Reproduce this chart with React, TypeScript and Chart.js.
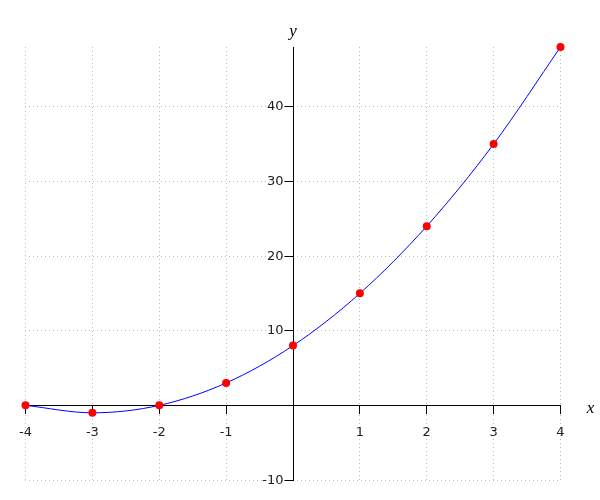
import React, { useEffect, useRef } from "react";
import { Chart, registerables } from "chart.js";

Chart.register(...registerables);

const xValues = [-4, -3, -2, -1, 0, 1, 2, 3, 4];
const yValues = [0, -1, 0, 3, 8, 15, 24, 35, 48];
const xTicks = [-4, -3, -2, -1, 0, 1, 2, 3, 4];
const yTicks = [-10, 0, 10, 20, 30, 40];
const xRange = [-4, 4];
const yRange = [-10, 48];
const xLabel = "x";
const yLabel = "y";

const axisLabels = {
  id: "axisLabels",
  afterDraw(chart: any) {
    const { ctx, scales } = chart;
    const xs = scales.x;
    const ys = scales.y;
    const ax = Math.round(xs.getPixelForValue(0) - 0.5) + 0.5;
    ctx.save();
    ctx.strokeStyle = "#000";
    ctx.lineWidth = 1;
    ctx.fillStyle = "#222";
    ctx.font = "13px 'DejaVu Sans', sans-serif";
    ctx.textAlign = "right";
    ctx.textBaseline = "middle";
    for (const v of yTicks) {
      if (v === 0) continue;
      const py = Math.round(ys.getPixelForValue(v) - 0.5) + 0.5;
      ctx.beginPath();
      ctx.moveTo(ax - 9, py);
      ctx.lineTo(ax, py);
      ctx.stroke();
      ctx.fillText(String(v), ax - 10, py);
    }
    ctx.font = "italic 17px 'Liberation Serif', 'DejaVu Serif', serif";
    ctx.fillStyle = "#000";
    ctx.textAlign = "center";
    ctx.fillText(yLabel, xs.getPixelForValue(0), ys.top - 15);
    ctx.fillText(xLabel, xs.right + 30, ys.getPixelForValue(0) + 3);
    ctx.restore();
  },
};

export default function App() {
  const ref = useRef<HTMLCanvasElement>(null);
  useEffect(() => {
    document.body.style.margin = "0";
    const chart = new Chart(ref.current!, {
      type: "scatter",
      data: {
        datasets: [
          {
            data: xValues.map((x, i) => ({ x, y: yValues[i] })),
            showLine: true,
            borderColor: "#0000ff",
            borderWidth: 1,
            cubicInterpolationMode: "monotone",
            pointBackgroundColor: "#ff0000",
            pointBorderColor: "#ff0000",
            pointRadius: 4,
            pointBorderWidth: 0,
            clip: false,
          } as any,
        ],
      },
      options: {
        animation: false,
        responsive: false,
        layout: { padding: { left: 25.5, right: 39.5, top: 47, bottom: 20 } },
        plugins: { legend: { display: false }, tooltip: { enabled: false } },
        scales: {
          x: {
            type: "linear",
            position: { y: 0 } as any,
            min: xRange[0],
            max: xRange[1],
            afterBuildTicks: (s: any) => {
              s.ticks = xTicks.map((v) => ({ value: v }));
            },
            grid: {
              color: "#bbbbbb",
              lineWidth: 1,
              drawTicks: true,
              tickLength: 8,
              tickColor: "#000",
              tickWidth: 1,
            },
            border: { display: true, color: "#000", width: 1, dash: [1, 3] },
            ticks: {
              color: "#222",
              font: { family: "'DejaVu Sans', sans-serif", size: 13 },
              padding: 11,
              maxRotation: 0,
              autoSkip: false,
              callback: (v: any) => (v === 0 ? "" : String(v)),
            },
          },
          y: {
            type: "linear",
            position: { x: 0 } as any,
            min: yRange[0],
            max: yRange[1],
            afterBuildTicks: (s: any) => {
              s.ticks = yTicks.map((v) => ({ value: v }));
            },
            grid: {
              color: "#bbbbbb",
              lineWidth: 1,
              drawTicks: false,
            },
            border: { display: true, color: "#000", width: 1, dash: [1, 3], dashOffset: 0.5 },
            ticks: { display: false },
          },
        },
      },
      plugins: [axisLabels],
    });
    return () => chart.destroy();
  }, []);
  return (
    <div style={{ width: 600, height: 500 }}>
      <canvas ref={ref} width={600} height={500} style={{ display: "block" }} />
    </div>
  );
}
